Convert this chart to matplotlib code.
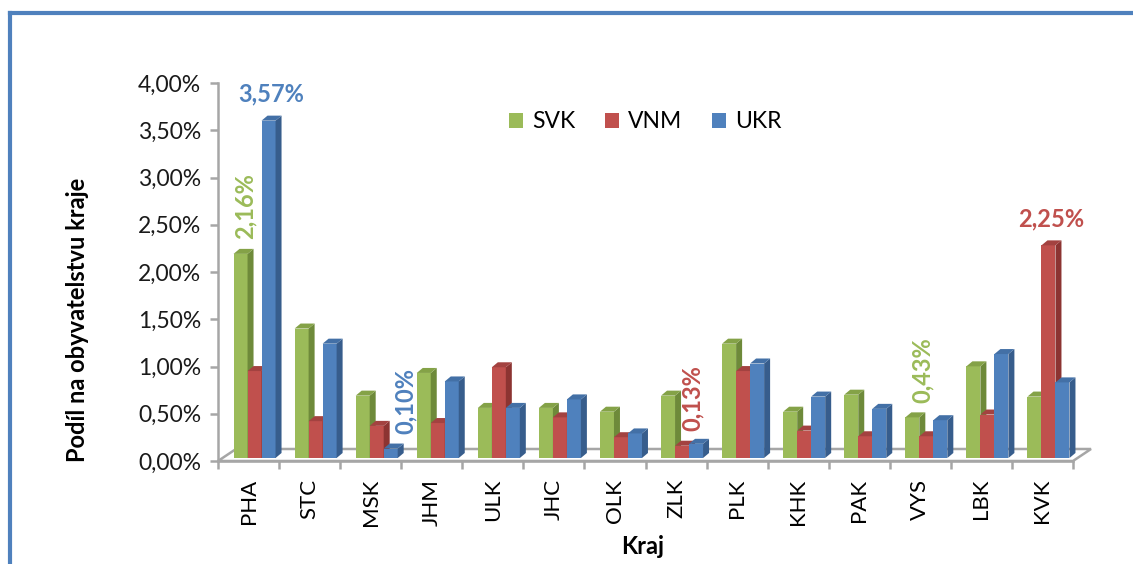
#Podil cizincu v krajich - 3D sloupcovy graf

import numpy as np
import matplotlib
matplotlib.use("Agg")
import matplotlib.pyplot as plt
from matplotlib.patches import Polygon
from matplotlib.lines import Line2D

plt.rcParams['font.family'] = ['Lato', 'DejaVu Sans']

kraje = ['PHA', 'STC', 'MSK', 'JHM', 'ULK', 'JHC', 'OLK',
         'ZLK', 'PLK', 'KHK', 'PAK', 'VYS', 'LBK', 'KVK']
svk = [2.16, 1.37, 0.66, 0.90, 0.53, 0.53, 0.49, 0.66, 1.21, 0.49, 0.67, 0.43, 0.97, 0.65]
vnm = [0.92, 0.39, 0.34, 0.37, 0.96, 0.43, 0.22, 0.13, 0.92, 0.29, 0.23, 0.23, 0.46, 2.25]
ukr = [3.57, 1.21, 0.10, 0.81, 0.53, 0.62, 0.26, 0.15, 1.00, 0.65, 0.52, 0.40, 1.10, 0.80]
series_names = ['SVK', 'VNM', 'UKR']
y_ticks = [0, 0.5, 1.0, 1.5, 2.0, 2.5, 3.0, 3.5, 4.0]

#colors: front, side, top
colors = {'SVK': ('#9BBB59', '#6E8A3A', '#84A247'),
          'VNM': ('#C0504D', '#8C3432', '#A34240'),
          'UKR': ('#4F81BD', '#375D8C', '#4370A6')}

#labels shown in chart: (category index, series, rotated, x offset px)
highlights = [(0, 'UKR', False, 0), (0, 'SVK', True, 2), (2, 'UKR', True, 12),
              (7, 'VNM', True, 7), (11, 'SVK', True, 7), (13, 'VNM', False, 0)]

W, H = 1133, 564
fig = plt.figure(figsize=(W / 100, H / 100), dpi=100)
ax = fig.add_axes([218 / W, 1 - 461 / H, 855 / W, 378 / H])
ax.set_xlim(-0.5, 13.5)
ax.set_ylim(0, 4.0)

px_x = 855 / 14      # pixels per category
px_y = 378 / 4.0     # pixels per 1 %
bw = 14 / px_x       # bar width
shift = 6 / px_x     # group shift to the right
bdx, bdy = 6 / px_x, 5 / px_y      # bar depth
fdx, fdy = 18 / px_x, 12 / px_y    # floor depth
lift = 3 / px_y

#floor
floor = Polygon([(-0.5, 0), (13.5, 0), (13.5 + fdx, fdy), (-0.5 + fdx, fdy)],
                closed=True, facecolor='white', edgecolor='#A6A6A6', lw=1.8,
                zorder=1, clip_on=False)
ax.add_patch(floor)

data = {'SVK': svk, 'VNM': vnm, 'UKR': ukr}
xs = np.arange(len(kraje))
tops = {}
for s, name in enumerate(series_names):
    vals = np.array(data[name])
    front, side, topc = colors[name]
    x = xs + shift + (s - 1) * bw
    z = 3 + s
    ax.bar(x, vals, width=bw, bottom=lift, color=front, label=name,
           zorder=z, clip_on=False, linewidth=0)
    for xi, v in zip(x, vals):
        xl, xr = xi - bw / 2, xi + bw / 2
        t = lift + v
        ax.add_patch(Polygon([(xr, lift), (xr + bdx, lift + bdy), (xr + bdx, t + bdy), (xr, t)],
                             closed=True, facecolor=side, lw=0, zorder=z, clip_on=False))
        ax.add_patch(Polygon([(xl, t), (xr, t), (xr + bdx, t + bdy), (xl + bdx, t + bdy)],
                             closed=True, facecolor=topc, lw=0, zorder=z, clip_on=False))
    tops[name] = (x, vals)

#data labels
for i, name, rot, off in highlights:
    x, vals = tops[name]
    v = vals[i]
    txt = f"{v:.2f}%".replace('.', ',')
    ax.annotate(txt, xy=(x[i] + bdx / 2, lift + v + bdy),
                xytext=(off * 0.72, 7), textcoords='offset points',
                ha='center', va='bottom', rotation=90 if rot else 0,
                fontsize=17, fontweight='bold', color=colors[name][0],
                annotation_clip=False, zorder=10)

#axes styling
for sp in ['top', 'right']:
    ax.spines[sp].set_visible(False)
ax.spines['left'].set_color('#A6A6A6')
ax.spines['left'].set_linewidth(1.8)
ax.spines['bottom'].set_color('#A6A6A6')
ax.spines['bottom'].set_linewidth(1.8)
ax.set_yticks(y_ticks)
ax.set_yticklabels([f"{t:.2f}%".replace('.', ',') for t in y_ticks])
ax.tick_params(axis='y', length=6, width=1.8, color='#A6A6A6', pad=6,
               labelsize=16.5, labelcolor='#1A1A1A')
ax.set_xticks(xs)
ax.set_xticklabels(kraje, rotation=90)
ax.tick_params(axis='x', which='major', length=0, pad=13,
               labelsize=16, labelcolor='black')
ax.set_xticks(np.arange(-0.5, 14, 1), minor=True)
ax.tick_params(axis='x', which='minor', length=6, width=1.8, color='#A6A6A6')

fig.text(78 / W, 1 - 320 / H, 'Podíl na obyvatelstvu kraje', rotation=90,
         ha='center', va='center', fontsize=17, fontweight='bold')
fig.text(643 / W, 1 - 546 / H, 'Kraj', ha='center', va='center',
         fontsize=17, fontweight='bold')

fig.legend(loc='center', bbox_to_anchor=(645 / W, 1 - 122 / H), ncol=3,
           frameon=False, fontsize=16.5, handlelength=0.6, handleheight=0.6,
           handletextpad=0.4, columnspacing=1.3)

#blue frame
fig.add_artist(Line2D([9.5 / W, 9.5 / W], [0, 1 - 13 / H], color='#4F81BD', lw=3))
fig.add_artist(Line2D([9.5 / W, 1], [1 - 13 / H, 1 - 13 / H], color='#4F81BD', lw=3))

fig.savefig('out.png', dpi=100)
